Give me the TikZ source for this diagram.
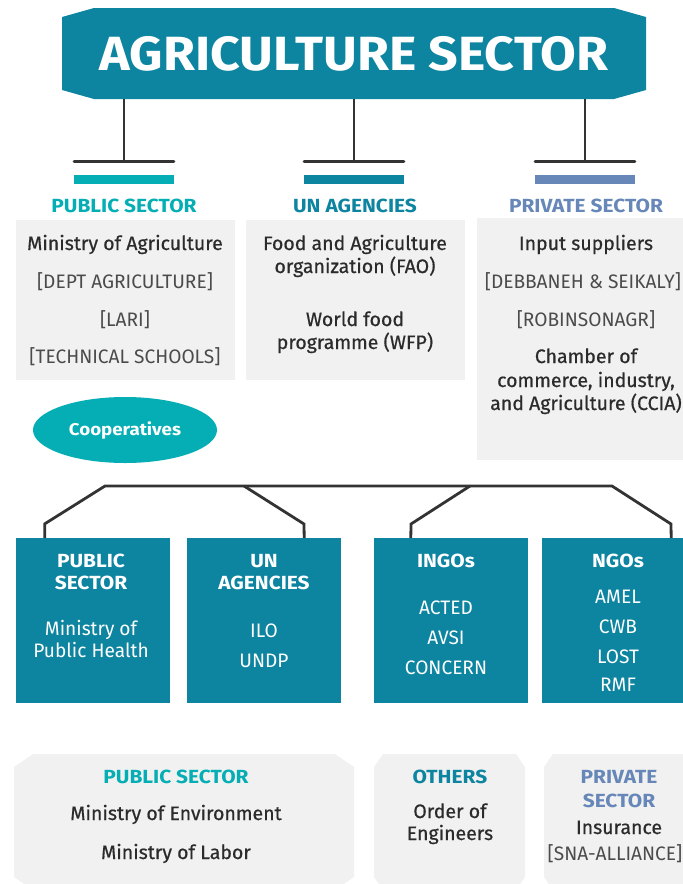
\documentclass[tikz,border=0pt]{standalone}
\usepackage{fontspec}
\setmainfont{Fira Sans}
\newfontfamily\lightface{Fira Sans}[FakeStretch=0.98]
\newfontfamily\mediumface{Fira Sans}[FakeBold=0.6]
\newfontfamily\headface{Fira Sans}[FakeStretch=1.1]
\newfontfamily\bannerface{Fira Sans}[FakeStretch=1.08]
\usepackage{tikz}
\usetikzlibrary{shapes.geometric}
\definecolor{AGTeal}{HTML}{0D84A0}
\definecolor{AGCyan}{HTML}{04AEB4}
\definecolor{AGSlate}{HTML}{6687B7}
\definecolor{AGPanel}{HTML}{F1F1F1}
\definecolor{AGLine}{HTML}{333333}
\definecolor{AGText}{HTML}{2B2B2B}

\begin{document}
\begin{tikzpicture}[
    x=1pt,y=-1pt,
    banner/.style={minimum width=584pt, minimum height=91pt, inner sep=0pt, text=white, font=\bannerface\bfseries\fontsize{48}{50}\selectfont},
    bar/.style={minimum width=100pt, minimum height=9pt, inner sep=0pt},
    link/.style={draw=AGLine, line width=2.8pt},
    head/.style={inner sep=0pt, anchor=base, font=\headface\bfseries\fontsize{19}{22}\selectfont},
    panel/.style={fill=AGPanel, minimum width=219pt, inner sep=0pt},
    item/.style={inner sep=0pt, anchor=base, text=AGText, font=\mediumface\fontsize{19.5}{22}\selectfont},
    tag/.style={item, text=AGText!85, font=\lightface\fontsize{19.5}{22}\selectfont},
    tealbox/.style={fill=AGTeal, minimum width=154pt, minimum height=165pt, inner sep=0pt},
    boxhead/.style={head, text=white},
    boxitem/.style={tag, text=white},
    coop/.style={ellipse, fill=AGCyan, minimum width=184pt, minimum height=66pt, inner sep=0pt, text=white, font=\headface\bfseries\fontsize{17}{19}\selectfont},
    softbox/.style={fill=AGPanel}
  ]
    \useasboundingbox (0,0) rectangle (683,884);
    \clip (0,0) rectangle (683,884);

    % top banner
    \fill[AGTeal] (62,17) -- (94,8) -- (614,8) -- (646,17) -- (646,90) -- (614,99) -- (94,99) -- (62,90) -- cycle;
    \node[banner] (agri) at (354,53.5) {AGRICULTURE SECTOR};

    \node[bar, fill=AGCyan] (pubbar) at (124,179.5) {};
    \node[bar, fill=AGTeal] (unbar) at (354,179.5) {};
    \node[bar, fill=AGSlate] (privbar) at (585,179.5) {};

    \foreach \n in {pub,un,priv}{
      \coordinate (\n T) at ([yshift=13.5pt]\n bar.north);
      \draw[link] (agri.south -| \n T) -- (\n T);
      \draw[link, line cap=round] ([xshift=-50pt]\n T) -- ([xshift=50pt]\n T);
    }

    \node[head, text=AGCyan] (pubhead) at (124,212) {PUBLIC SECTOR};
    \node[head, text=AGTeal] (unhead) at (355,212) {UN AGENCIES};
    \node[head, text=AGSlate] (privhead) at (586,212) {PRIVATE SECTOR};

    % first row of panels
    \node[panel, minimum height=160pt] (pubpanel) at (125.5,300) {};
    \node[panel, minimum height=160pt] (unpanel) at (355.5,300) {};
    \node[panel, minimum height=242pt] (privpanel) at (586.5,339) {};

    \node[item] (moa) at (125,250) {Ministry of Agriculture};
    \node[tag] (dept) at (125,288) {[DEPT AGRICULTURE]};
    \node[tag] (lari) at (125,326) {[LARI]};
    \node[tag] (tech) at (125,363) {[TECHNICAL SCHOOLS]};

    \node[item] (fao1) at (355,250) {Food and Agriculture};
    \node[item] (fao2) at (355,273) {organization (FAO)};
    \node[item] (wfp1) at (355,326) {World food};
    \node[item] (wfp2) at (355,349) {programme (WFP)};

    \node[item] (input) at (586,250) {Input suppliers};
    \node[tag] (debb) at (583,288) {[DEBBANEH \& SEIKALY]};
    \node[tag] (robin) at (586,326) {[ROBINSONAGR]};
    \node[item] (ccia1) at (586,363) {Chamber of};
    \node[item] (ccia2) at (586,387) {commerce, industry,};
    \node[item] (ccia3) at (586,410) {and Agriculture (CCIA)};

    \node[coop] (coop) at (125,430) {Cooperatives};

    % second row: teal boxes on a common bus
    \node[tealbox] (healthbox) at (93,620.5) {};
    \node[tealbox] (unbox) at (264,620.5) {};
    \node[tealbox] (ingobox) at (451,620.5) {};
    \node[tealbox] (ngobox) at (619,620.5) {};

    \coordinate (busL) at (105,486);
    \coordinate (busR) at (612,486);
    \coordinate (busB) at (244,486);
    \coordinate (busC) at (470,486);
    \draw[link] ([xshift=29pt]healthbox.north west) -- ++(0,-14) -- (busL) -- (busR) -- ++(59,38) -- ([xshift=-25pt]ngobox.north east);
    \draw[link] (busB) -- ++(60,38) -- ([xshift=-37pt]unbox.north east);
    \draw[link] (busC) -- ++(-59,38) -- ([xshift=37pt]ingobox.north west);

    \node[boxhead] (h1) at (91,567) {PUBLIC};
    \node[boxhead] (h2) at (91,589) {SECTOR};
    \node[boxitem] (mph1) at (91,635) {Ministry of};
    \node[boxitem] (mph2) at (91,657) {Public Health};

    \node[boxhead] (u1) at (264,567) {UN};
    \node[boxhead] (u2) at (264,589) {AGENCIES};
    \node[boxitem] (ilo) at (264,637) {ILO};
    \node[boxitem] (undp) at (264,667) {UNDP};

    \node[boxhead] (ingo) at (446,567) {INGOs};
    \node[boxitem] (acted) at (446,614) {ACTED};
    \node[boxitem] (avsi) at (446,644) {AVSI};
    \node[boxitem] (concern) at (446,674) {CONCERN};

    \node[boxhead] (ngo) at (618,567) {NGOs};
    \node[boxitem] (amel) at (618,603) {AMEL};
    \node[boxitem] (cwb) at (618,633) {CWB};
    \node[boxitem] (lost) at (618,663) {LOST};
    \node[boxitem] (rmf) at (618,691) {RMF};

    % bottom row
    \fill[softbox] (14,767) -- (33,754) -- (335,754) -- (354,767) -- (354,877) -- (335,890) -- (33,890) -- (14,877) -- cycle;
    \fill[softbox] (374,767) -- (383,754) -- (516,754) -- (525,767) -- (525,877) -- (516,890) -- (383,890) -- (374,877) -- cycle;
    \fill[softbox] (544,767) -- (553,754) -- (700,754) -- (700,890) -- (553,890) -- (544,877) -- cycle;

    \node[head, text=AGCyan] (pubhead2) at (176,783) {PUBLIC SECTOR};
    \node[item] (moe) at (176,820) {Ministry of Environment};
    \node[item] (mol) at (176,859) {Ministry of Labor};

    \node[head, text=AGTeal] (others) at (450,783) {OTHERS};
    \node[item] (oe1) at (450,818) {Order of};
    \node[item] (oe2) at (450,840) {Engineers};

    \node[head, text=AGSlate] (privhead2) at (619,783) {PRIVATE};
    \node[head, text=AGSlate] (privhead3) at (619,807) {SECTOR};
    \node[item] (ins) at (619,834) {Insurance};
    \node[tag] (sna) at (615,860) {[SNA-ALLIANCE]};
  \end{tikzpicture}
\end{document}
